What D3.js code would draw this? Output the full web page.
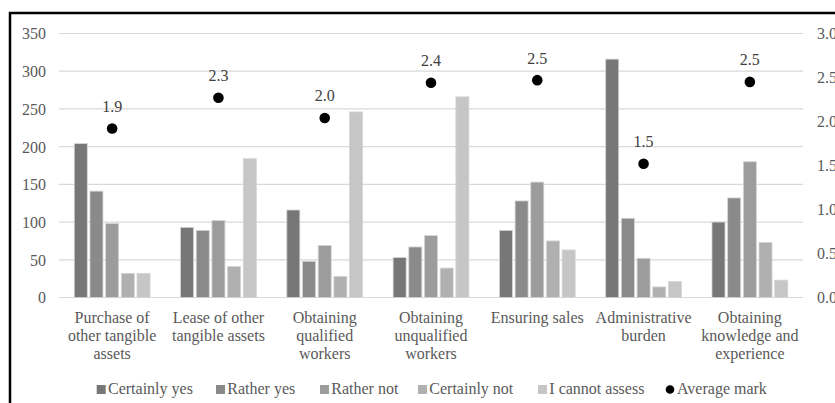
<!DOCTYPE html>
<html>
<head>
<meta charset="utf-8">
<script src="https://cdn.jsdelivr.net/npm/d3@7"></script>
<style>
  html, body { margin: 0; padding: 0; background: #fff; }
  svg { display: block; }
</style>
</head>
<body>
<svg id="chart" width="835" height="403"></svg>
<script>
// Survey answers per area, with the average mark on the right axis
const categories = [
  "Purchase of\nother tangible\nassets",
  "Lease of other\ntangible assets",
  "Obtaining\nqualified\nworkers",
  "Obtaining\nunqualified\nworkers",
  "Ensuring sales",
  "Administrative\nburden",
  "Obtaining\nknowledge and\nexperience"
];
const seriesNames = ["Certainly yes", "Rather yes", "Rather not", "Certainly not", "I cannot assess"];
const certainlyYes  = [204,  93, 116,  53,  89, 316, 100];
const ratherYes     = [141,  89,  48,  67, 128, 105, 132];
const ratherNot     = [ 98, 102,  69,  82, 153,  52, 180];
const certainlyNot  = [ 32,  41,  28,  39,  75,  14,  73];
const cannotAssess  = [ 32, 184, 246, 266,  63,  21,  23];
const averageMark   = [1.92, 2.27, 2.04, 2.44, 2.47, 1.52, 2.45];
const averageName   = "Average mark";
const leftTicks  = [0, 50, 100, 150, 200, 250, 300, 350];
const rightTicks = [0, 0.5, 1.0, 1.5, 2.0, 2.5, 3.0];
const seriesColors = ["#777777", "#8a8a8a", "#9c9c9c", "#b0b0b0", "#c6c6c6"];

const seriesValues = [certainlyYes, ratherYes, ratherNot, certainlyNot, cannotAssess];

const FONT = '"Liberation Serif", serif';
const svg = d3.select("#chart");
const plot = { left: 59, right: 803, top: 33.5, bottom: 297.5 };
const textColor = "#595959";

function serifText(sel, size) {
  return sel.style("font-family", FONT).style("font-size", size + "px");
}

// outer frame
svg.append("rect")
  .attr("x", 10).attr("y", 13)
  .attr("width", 840).attr("height", 400)
  .attr("fill", "none").attr("stroke", "#000").attr("stroke-width", 2.5);

const x0 = d3.scaleBand().domain(categories).range([plot.left, plot.right]);
const groupW = x0.bandwidth() * 0.738;
const x1 = d3.scaleBand().domain(seriesNames)
  .range([(x0.bandwidth() - groupW) / 2, (x0.bandwidth() + groupW) / 2]);
const yL = d3.scaleLinear().domain([0, 350]).range([plot.bottom, plot.top]);
const yR = d3.scaleLinear().domain([0, 3]).range([plot.bottom, plot.top]);

// gridlines
svg.append("g").selectAll("line").data(leftTicks).join("line")
  .attr("x1", plot.left).attr("x2", plot.right)
  .attr("y1", d => yL(d)).attr("y2", d => yL(d))
  .attr("stroke", "#d9d9d9").attr("stroke-width", 1.2);

// left axis
const leftAxis = svg.append("g")
  .attr("transform", `translate(${plot.left - 13},0)`)
  .call(d3.axisLeft(yL).tickValues(leftTicks).tickSize(0).tickPadding(0).tickFormat(d3.format("d")));
leftAxis.select(".domain").remove();
serifText(leftAxis.selectAll("text"), 16).attr("fill", textColor).attr("dy", "0.34em");

// right axis
const rightAxis = svg.append("g")
  .attr("transform", `translate(${plot.right + 14},0)`)
  .call(d3.axisRight(yR).tickValues(rightTicks).tickSize(0).tickPadding(0).tickFormat(d3.format(".1f")));
rightAxis.select(".domain").remove();
serifText(rightAxis.selectAll("text"), 16).attr("fill", textColor).attr("dy", "0.34em");

// bars
const barW = 13;
const groups = svg.append("g").selectAll("g").data(categories).join("g")
  .attr("transform", d => `translate(${x0(d)},0)`);
groups.selectAll("rect")
  .data((c, ci) => seriesNames.map((s, si) => ({ s, si, v: seriesValues[si][ci] })))
  .join("rect")
  .attr("x", d => x1(d.s) + (x1.bandwidth() - barW) / 2)
  .attr("width", barW)
  .attr("y", d => yL(d.v))
  .attr("height", d => yL(0) - yL(d.v))
  .attr("fill", d => seriesColors[d.si])
  .attr("stroke", "#d4d4d4").attr("stroke-width", 0.8);

// average mark points and labels
const cx = d => x0(d) + x0.bandwidth() / 2;
svg.append("g").selectAll("circle").data(categories).join("circle")
  .attr("cx", cx).attr("cy", (d, i) => yR(averageMark[i]))
  .attr("r", 5.3).attr("fill", "#000");
serifText(svg.append("g").selectAll("text").data(categories).join("text"), 16)
  .attr("x", cx).attr("y", (d, i) => yR(averageMark[i]) - 16.5)
  .attr("text-anchor", "middle").attr("fill", "#404040")
  .text((d, i) => d3.format(".1f")(averageMark[i]));

// category labels
const catLabels = serifText(svg.append("g").selectAll("text").data(categories).join("text"), 16)
  .attr("text-anchor", "middle").attr("fill", textColor);
catLabels.each(function (d) {
  const t = d3.select(this);
  d.split("\n").forEach((line, i) => {
    t.append("tspan").attr("x", cx(d)).attr("y", 322.5 + i * 18).text(line);
  });
});

// legend
const legendItems = seriesNames.map((s, i) => ({ name: s, color: seriesColors[i], dot: false }))
  .concat([{ name: averageName, color: "#000", dot: true }]);
const legend = svg.append("g");
const legendX = [96.7, 216, 320, 418, 538, 665.7];
legendItems.forEach((it, i) => {
  const g = legend.append("g").attr("transform", `translate(${legendX[i]},0)`);
  if (it.dot) {
    g.append("circle").attr("cx", 4.3).attr("cy", 389.5).attr("r", 4.3).attr("fill", it.color);
  } else {
    g.append("rect").attr("x", 0).attr("y", 385).attr("width", 9).attr("height", 9).attr("fill", it.color);
  }
  serifText(g.append("text"), 16).attr("x", 11.3).attr("y", 394).attr("fill", textColor).text(it.name);
});
</script>
</body>
</html>
